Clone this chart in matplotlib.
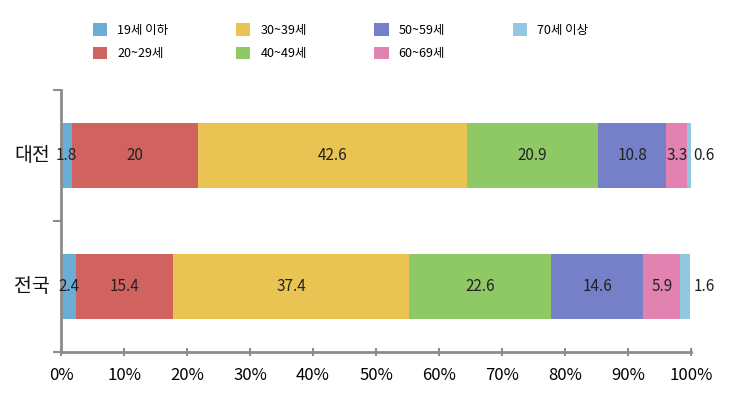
import matplotlib
matplotlib.use("Agg")
import matplotlib.pyplot as plt
from matplotlib.patches import Patch

plt.rcParams["font.family"] = ["Noto Sans CJK KR", "DejaVu Sans"]

# Data
regions = ["전국", "대전"]
groups = ["19세 이하", "20~29세", "30~39세", "40~49세", "50~59세", "60~69세", "70세 이상"]
daejeon = [1.8, 20, 42.6, 20.9, 10.8, 3.3, 0.6]
national = [2.4, 15.4, 37.4, 22.6, 14.6, 5.9, 1.6]
colors = ["#6aaed6", "#d06360", "#eac452", "#8ec966", "#7680c8", "#e282b0", "#91c7e1"]

values = [national, daejeon]

fig = plt.figure(figsize=(7.3, 4.07), dpi=100)
ax = fig.add_axes([0.0836, 0.135, 0.863, 0.644])

for i, row in enumerate(values):
    left = 0
    for j, v in enumerate(row):
        ax.barh(i, v, left=left, height=0.5, color=colors[j], edgecolor="none")
        if j == len(row) - 1 and v < 2:
            x = 102.1  # tiny last segment: label sits right of the bar
        else:
            x = left + v / 2
        ax.text(x, i, f"{v:g}", ha="center", va="center", fontsize=11, color="#222222")
        left += v

ax.set_xlim(0, 100)
ax.set_ylim(-0.5, 1.5)
ax.set_xticks(range(0, 101, 10))
ax.set_xticklabels([f"{t}%" for t in range(0, 101, 10)], fontsize=12)
ax.set_yticks([-0.5, 0.5, 1.5])
ax.set_yticklabels([])
for i, r in enumerate(regions):
    ax.text(-1.8, i, r, ha="right", va="center", fontsize=14, color="#111111")

for s in ["top", "right"]:
    ax.spines[s].set_visible(False)
for s in ["left", "bottom"]:
    ax.spines[s].set_color("#8c8c8c")
    ax.spines[s].set_linewidth(2)
ax.tick_params(axis="x", direction="inout", length=6, width=1.5, color="#8c8c8c", pad=8)
ax.tick_params(axis="y", direction="out", length=6, width=1.5, color="#8c8c8c")

handles = [Patch(facecolor=c, edgecolor="none") for c in colors]
fig.legend(handles, groups, loc="upper left", bbox_to_anchor=(0.112, 0.97), ncol=4,
           frameon=False, fontsize=9, handlelength=1.15, handleheight=1.15,
           columnspacing=5.4, labelspacing=0.8, handletextpad=0.8)

fig.savefig("out.png", dpi=100)
